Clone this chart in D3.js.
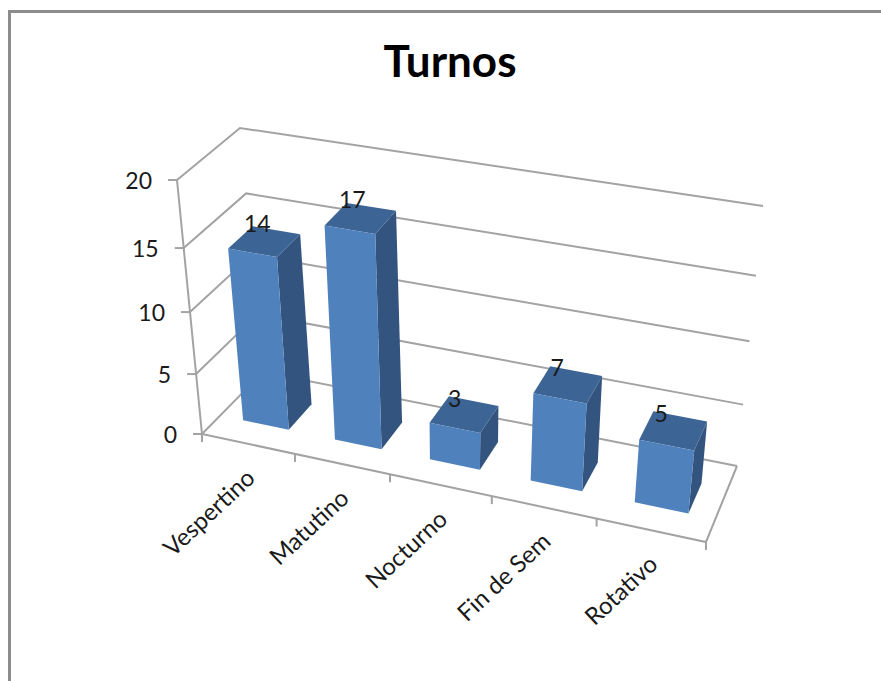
<!DOCTYPE html>
<html lang="en">
<head>
  <meta charset="UTF-8">
  <title>Turnos</title>
  <script src="https://d3js.org/d3.v7.min.js"></script>
  <style>
    html, body { margin: 0; padding: 0; background: #fff; }
    svg { display: block; font-family: Lato, sans-serif; }
    .wire { fill: none; stroke: #a3a3a3; stroke-width: 2; }
    .tick-label, .cat-label, .data-label { fill: #1a1a1a; }
  </style>
</head>
<body>
<svg id="chart" width="881" height="681"></svg>

<script>
const categories = ["Vespertino", "Matutino", "Nocturno", "Fin de Sem", "Rotativo"];
const values = [14, 17, 3, 7, 5];
const valueTicks = [0, 5, 10, 15, 20];
const chartTitle = "Turnos";

// Box corners on screen: first key is f(ront)/b(ack), then l(eft)/r(ight), then bottom/top
const corners = {
  flb: [202, 434], flt: [177, 180],
  frb: [706, 542], frt: [734, 271],
  blb: [263, 372], blt: [240, 128],
  brb: [737, 466], brt: [763, 206]
};

// Perspective makes the steps uneven, so both scales are piecewise
const catScale = d3.scaleLinear()
  .domain([0, 1, 2, 3, 4, 5])
  .range([0, 0.1845, 0.373, 0.575, 0.783, 1]);
const valueScale = d3.scaleLinear()
  .domain(valueTicks)
  .range([0, 0.236, 0.48, 0.732, 1]);

const mix = (a, b, t) => [a[0] + (b[0] - a[0]) * t, a[1] + (b[1] - a[1]) * t];

// u = category position, v = value, w = depth (0 front, 1 back)
function project(u, v, w) {
  const s = catScale(u), t = valueScale(v);
  const front = mix(mix(corners.flb, corners.frb, s), mix(corners.flt, corners.frt, s), t);
  const back = mix(mix(corners.blb, corners.brb, s), mix(corners.blt, corners.brt, s), t);
  return mix(front, back, w);
}

const svg = d3.select("#chart");
const line = d3.line();
const maxCat = categories.length;

// outer frame, only top and left show
svg.append("path")
  .attr("d", line([[9.5, 681], [9.5, 11.5], [881, 11.5]]))
  .attr("fill", "none")
  .attr("stroke", "#8c8c8c")
  .attr("stroke-width", 3);

svg.append("text")
  .attr("x", 450)
  .attr("y", 77)
  .attr("text-anchor", "middle")
  .style("font-size", "44px")
  .style("font-weight", 700)
  .style("fill", "#000")
  .text(chartTitle);

// walls: gridlines run along the side wall and the back wall
const wire = svg.append("g").attr("class", "wires");
valueTicks.forEach(v => {
  wire.append("path").attr("class", "wire")
    .attr("d", line([project(0, v, 0), project(0, v, 1), project(maxCat, v, 1)]));
});

// floor front and right edges
wire.append("path").attr("class", "wire")
  .attr("d", line([project(0, 0, 0), project(maxCat, 0, 0), project(maxCat, 0, 1)]));

// value axis
wire.append("path").attr("class", "wire")
  .attr("d", line([project(0, 0, 0), project(0, 20, 0)]));

valueTicks.forEach(v => {
  const p = project(0, v, 0);
  wire.append("path").attr("class", "wire")
    .attr("d", line([p, [p[0] - 9, p[1]]]));
  svg.append("text")
    .attr("class", "tick-label")
    .attr("x", p[0] - 25)
    .attr("y", p[1] + 9)
    .attr("text-anchor", "end")
    .style("font-size", "23px")
    .text(v);
});

d3.range(0, maxCat + 1).forEach(u => {
  const p = project(u, 0, 0);
  wire.append("path").attr("class", "wire")
    .attr("d", line([p, [p[0], p[1] + 8]]));
});

// bars, left to right
const barHalf = 0.25, depthFront = 0.3, depthBack = 0.7;
const bars = svg.append("g").attr("class", "bars");

values.forEach((val, i) => {
  const u0 = i + 0.5 - barHalf, u1 = i + 0.5 + barHalf;
  const g = bars.append("g");
  g.append("path").attr("fill", "#33547e")
    .attr("d", line([
      project(u1, 0, depthFront), project(u1, 0, depthBack),
      project(u1, val, depthBack), project(u1, val, depthFront)
    ]) + "Z");
  g.append("path").attr("fill", "#3c6494")
    .attr("d", line([
      project(u0, val, depthFront), project(u1, val, depthFront),
      project(u1, val, depthBack), project(u0, val, depthBack)
    ]) + "Z");
  g.append("path").attr("fill", "#4f81bd")
    .attr("d", line([
      project(u0, 0, depthFront), project(u1, 0, depthFront),
      project(u1, val, depthFront), project(u0, val, depthFront)
    ]) + "Z");
});

// value labels sit over the top face; short bars carry them a little lower
values.forEach((val, i) => {
  const p = project(i + 0.5, val, depthBack);
  svg.append("text")
    .attr("class", "data-label")
    .attr("x", p[0] - 19)
    .attr("y", p[1] + 7 - val * 0.35)
    .attr("text-anchor", "middle")
    .style("font-size", "23px")
    .text(val);
});

categories.forEach((name, i) => {
  const p = project(i + 0.5, 0, 0);
  svg.append("text")
    .attr("class", "cat-label")
    .attr("text-anchor", "end")
    .attr("transform", `translate(${p[0] + 8},${p[1] + 36}) rotate(-43)`)
    .style("font-size", "24px")
    .text(name);
});
</script>
</body>
</html>
